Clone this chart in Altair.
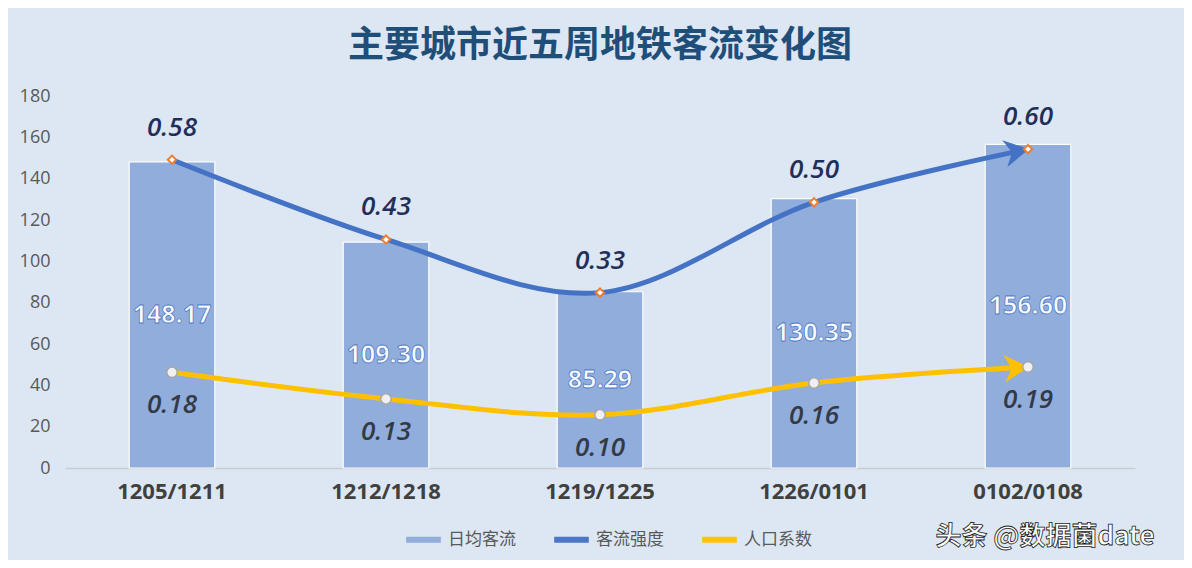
import altair as alt
import pandas as pd

cats = ["1205/1211", "1212/1218", "1219/1225", "1226/0101", "0102/0108"]
daily = [148.17, 109.30, 85.29, 130.35, 156.60]
intensity = [0.58, 0.43, 0.33, 0.50, 0.60]
popcoef = [0.18, 0.13, 0.10, 0.16, 0.19]
series_names = ["日均客流", "客流强度", "人口系数"]
series_colors = ["#8eaadb", "#4472c4", "#ffc000"]
left_ticks = [0, 20, 40, 60, 80, 100, 120, 140, 160, 180]
right_ticks = [0, 0.1, 0.2, 0.3, 0.4, 0.5, 0.6, 0.7]

CJK = "Noto Sans CJK SC"
NUM = "Open Sans"

bar_df = pd.DataFrame({"cat": cats, "val": daily, "series": "日均客流"})
line_df = pd.DataFrame({
    "cat": cats * 2,
    "val": intensity + popcoef,
    "series": ["客流强度"] * 5 + ["人口系数"] * 5,
})
int_df = pd.DataFrame({"cat": cats, "val": intensity})
pop_df = pd.DataFrame({"cat": cats, "val": popcoef})

xscale = alt.Scale(domain=cats, paddingInner=0.6, paddingOuter=0.3)
xenc = alt.X("cat:N", sort=cats, scale=xscale, title=None,
             axis=alt.Axis(labelAngle=0, labelFontSize=22, labelFontWeight="bold",
                           labelColor="#404040", labelFont=NUM, ticks=False,
                           domainColor="#c8ccd2", domainWidth=1.5, labelPadding=13,
                           grid=False))
xplain = alt.X("cat:N", sort=cats, scale=xscale, title=None)

color_scale = alt.Scale(domain=series_names, range=series_colors)
legend = alt.Legend(title=None, orient="none", legendX=338, legendY=423,
                    direction="horizontal",
                    symbolType="stroke", symbolStrokeWidth=6, symbolSize=1200,
                    labelFont=CJK, labelFontSize=17, labelColor="#595959",
                    columnPadding=26, symbolOffset=0)

yleft = alt.Y("val:Q", scale=alt.Scale(domain=[0, 180], nice=False), title=None,
              axis=alt.Axis(values=left_ticks, domain=False, ticks=False, grid=False,
                            labelFontSize=18, labelColor="#595959", labelFont=NUM,
                            labelPadding=15))

bars = alt.Chart(bar_df).mark_bar(stroke="#ffffff", strokeWidth=1.2, opacity=0.95).encode(
    x=xenc, y=yleft,
    color=alt.Color("series:N", scale=color_scale, legend=legend),
)
bar_text = alt.Chart(bar_df).transform_calculate(mid="datum.val / 2").mark_text(
    font=NUM, fontSize=25, fontWeight="bold", fill="#f7faff", stroke="#2f5fb8",
    strokeWidth=0.8, strokeOpacity=0.8, baseline="middle"
).encode(x=xplain, y=alt.Y("mid:Q"), text=alt.Text("val:Q", format=".2f"))

left = alt.layer(bars, bar_text)

yright_scale = alt.Scale(domain=[0, 0.7], nice=False)
yright = alt.Y("val:Q", scale=yright_scale, title=None,
               axis=alt.Axis(orient="right", values=right_ticks, format=".1~f",
                             domain=False, ticks=False, grid=False,
                             labelFontSize=18, labelColor="#595959", labelFont=NUM,
                             labelPadding=15))
yr = alt.Y("val:Q", scale=yright_scale, title=None, axis=None)

lines = alt.Chart(line_df).mark_line(strokeWidth=5, interpolate="cardinal",
                                     strokeCap="round").encode(
    x=xplain, y=yright,
    color=alt.Color("series:N", scale=color_scale, legend=legend),
)

arrow_path = "M 0 0 L -1 -0.55 L -0.7 0 L -1 0.55 Z"
int_last = int_df.tail(1)
pop_last = pop_df.tail(1)
arrow_int = alt.Chart(int_last).mark_point(
    shape=arrow_path, size=2000, filled=True, fill="#4472c4", stroke="#4472c4",
    strokeWidth=1, angle=349, opacity=1
).encode(x=xplain, y=yr)
arrow_pop = alt.Chart(pop_last).mark_point(
    shape=arrow_path, size=2000, filled=True, fill="#ffc000", stroke="#ffc000",
    strokeWidth=1, angle=356, opacity=1
).encode(x=xplain, y=yr)

pts_int = alt.Chart(int_df).mark_point(
    shape="diamond", size=70, filled=True, fill="#ffffff", stroke="#ed7d31",
    strokeWidth=2, opacity=1
).encode(x=xplain, y=yr)
pts_pop = alt.Chart(pop_df).mark_point(
    shape="circle", size=110, filled=True, fill="#eef0f3", stroke="#a6a6a6",
    strokeWidth=1.5, opacity=1
).encode(x=xplain, y=yr)

lab_int = alt.Chart(int_df).mark_text(
    font=NUM, fontSize=26, fontStyle="italic", fontWeight=600, fill="#1f2f57",
    dy=-32, baseline="middle"
).encode(x=xplain, y=yr, text=alt.Text("val:Q", format=".2f"))
lab_pop = alt.Chart(pop_df).mark_text(
    font=NUM, fontSize=26, fontStyle="italic", fontWeight=600, fill="#333a45",
    dy=33, baseline="middle"
).encode(x=xplain, y=yr, text=alt.Text("val:Q", format=".2f"))

right = alt.layer(lines, arrow_int, arrow_pop, pts_int, pts_pop, lab_int, lab_pop)

wm_df = pd.DataFrame({"t": ["头条 @数据菌date"]})
wm = alt.Chart(wm_df).mark_text(
    font=CJK, fontSize=26, fontWeight="bold", fill="#ffffff", stroke="#222222",
    strokeWidth=0.8, align="center", baseline="middle"
).encode(x=alt.value(980), y=alt.value(441), text="t:N")

chart = alt.layer(left, right, wm).resolve_scale(y="independent").properties(
    width=1070, height=372,
    autosize=alt.AutoSizeParams(type="none"),
    padding={"left": 57, "top": 88, "right": 49, "bottom": 92},
    background="#dce7f3",
    title=alt.TitleParams(
        text="主要城市近五周地铁客流变化图", font=CJK, fontSize=36, fontWeight="bold",
        color="#1f4e79", anchor="middle", offset=22
    ),
).configure_view(stroke=None)

chart.save("out.html", embed_options={"renderer": "svg", "actions": False})
